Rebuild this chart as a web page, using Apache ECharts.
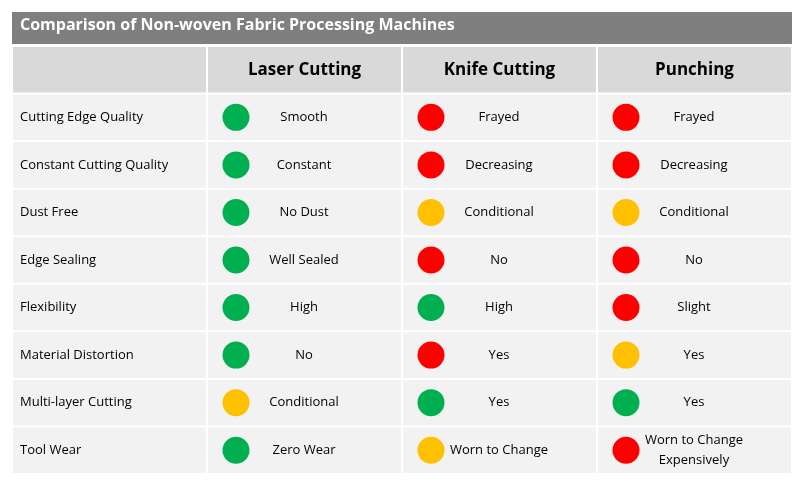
<!DOCTYPE html>
<html><head><meta charset="utf-8">
<script src="https://cdn.jsdelivr.net/npm/echarts@6/dist/echarts.min.js"></script>
<style>html,body{margin:0;padding:0;background:#fff}#c{width:803px;height:488px}</style>
</head><body><div id="c"></div>
<script>
const title = 'Comparison of Non-woven Fabric Processing Machines';
const methods = ['Laser Cutting', 'Knife Cutting', 'Punching'];
const criteria = ['Cutting Edge Quality','Constant Cutting Quality','Dust Free','Edge Sealing','Flexibility','Material Distortion','Multi-layer Cutting','Tool Wear'];
const laserText = ['Smooth','Constant','No Dust','Well Sealed','High','No','Conditional','Zero Wear'];
const laserRating = ['g','g','g','g','g','g','y','g'];
const knifeText = ['Frayed','Decreasing','Conditional','No','High','Yes','Yes','Worn to Change'];
const knifeRating = ['r','r','y','r','g','r','g','y'];
const punchText = ['Frayed','Decreasing','Conditional','No','Slight','Yes','Yes','Worn to Change\nExpensively'];
const punchRating = ['r','r','y','r','r','y','g','r'];

const colors = {g:'#00b050', r:'#ff0000', y:'#ffc000'};
const FONT = '"Open Sans"';
const cols = ['', ...methods];
const rows = ['header', ...criteria];
const data = [];
cols.forEach((c,i)=>data.push([i,0,'h',c,'']));
criteria.forEach((c,r)=>{
  data.push([0,r+1,'l',c,'']);
  [[laserText,laserRating],[knifeText,knifeRating],[punchText,punchRating]].forEach((p,k)=>{
    data.push([k+1,r+1,'d',p[0][r],p[1][r]]);
  });
});
const chart = echarts.init(document.getElementById('c'));
chart.setOption({
  animation:false,
  graphic:[{type:'group',children:[
    {type:'rect',shape:{x:12,y:12,width:780,height:32},style:{fill:'#7f7f7f'}},
    {type:'text',left:20,top:17,style:{text:title,fill:'#fff',font:'bold 16px '+FONT}}
  ]}],
  grid:{left:12,right:11,top:46,bottom:14},
  xAxis:{type:'category',data:cols,show:false},
  yAxis:{type:'category',data:rows,inverse:true,show:false},
  series:[{
    type:'custom',
    data:data,
    renderItem:(params,api)=>{
      const c=api.coord([api.value(0),api.value(1)]);
      const s=api.size([1,1]);
      const kind=data[params.dataIndex][2], txt=data[params.dataIndex][3], rt=data[params.dataIndex][4];
      const x0=c[0]-s[0]/2, y0=c[1]-s[1]/2;
      const ch=[{type:'rect',shape:{x:x0+1,y:y0+1,width:s[0]-2,height:s[1]-2},style:{fill:kind==='h'?'#d9d9d9':'#f2f2f2'}}];
      if(kind==='h'){
        ch.push({type:'text',style:{x:c[0],y:c[1],text:txt,align:'center',verticalAlign:'middle',font:'bold 17px '+FONT,fill:'#000'}});
      } else if(kind==='l'){
        ch.push({type:'text',style:{x:x0+8,y:c[1],text:txt,align:'left',verticalAlign:'middle',font:'13px '+FONT,fill:'#000'}});
      } else {
        ch.push({type:'circle',shape:{cx:x0+29,cy:c[1],r:13.5},style:{fill:colors[rt]}});
        ch.push({type:'text',style:{x:x0+97,y:c[1],text:txt,align:'center',verticalAlign:'middle',font:'13px '+FONT,fill:'#000',lineHeight:20}});
      }
      return {type:'group',children:ch};
    }
  }]
});
</script></body></html>
